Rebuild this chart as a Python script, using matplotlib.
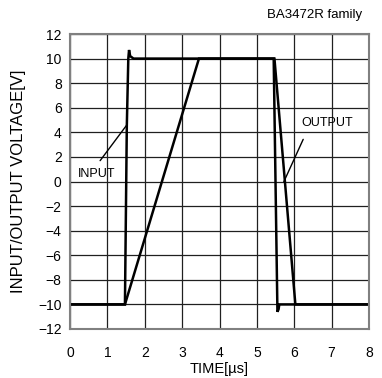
import matplotlib
matplotlib.use("Agg")
import matplotlib.pyplot as plt

plt.rcParams["font.family"] = ["Liberation Sans", "DejaVu Sans"]

# ── Data ─────────────────────────────────────────────────────────────────────
input_t = [0.0, 1.47, 1.52, 1.56, 1.58, 1.61, 1.70, 5.45, 5.55, 5.58, 5.60, 8.0]
input_v = [-10.0, -10.0, 4.5, 10.0, 10.7, 10.2, 10.0, 10.0, -10.6, -10.4, -10.0, -10.0]

output_t = [0.0, 1.47, 3.45, 5.47, 6.03, 8.0]
output_v = [-10.0, -10.0, 10.0, 10.0, -10.0, -10.0]

x_ticks = [0, 1, 2, 3, 4, 5, 6, 7, 8]
y_ticks = [-12, -10, -8, -6, -4, -2, 0, 2, 4, 6, 8, 10, 12]

# ── Plot ─────────────────────────────────────────────────────────────────────
fig = plt.figure(figsize=(3.82, 3.78), dpi=100)
ax = fig.add_axes([70 / 382, 1 - 329 / 378, 299 / 382, 295 / 378])

ax.plot(input_t, input_v, color="black", lw=1.8, solid_joinstyle="miter")
ax.plot(output_t, output_v, color="black", lw=1.8, solid_joinstyle="miter")

ax.set_xlim(0, 8)
ax.set_ylim(-12, 12)
ax.set_xticks(x_ticks)
ax.set_yticks(y_ticks)
ax.tick_params(length=0, labelsize=10)
ax.tick_params(axis="x", pad=12)
ax.tick_params(axis="y", pad=6)
ax.grid(True, color="#202020", lw=0.9)
ax.set_axisbelow(True)
for sp in ax.spines.values():
    sp.set_color("#808080")
    sp.set_linewidth(1.5)

ax.set_ylabel("INPUT/OUTPUT VOLTAGE[V]", fontsize=12, labelpad=9)
ax.set_xlabel("TIME[µs]", fontsize=10.5, labelpad=2)

# Annotations
ax.annotate("INPUT", xy=(1.52, 4.6), xytext=(0.21, 0.62), fontsize=9,
            va="center", ha="left",
            arrowprops=dict(arrowstyle="-", color="black", lw=1,
                            shrinkA=4, shrinkB=0, relpos=(0.45, 1.0)))
ax.annotate("OUTPUT", xy=(5.72, -0.03), xytext=(6.2, 4.76), fontsize=9,
            va="center", ha="left",
            arrowprops=dict(arrowstyle="-", color="black", lw=1,
                            shrinkA=6, shrinkB=0, relpos=(0.12, 0.0)))

fig.text(362 / 382, 1 - 15 / 378, "BA3472R family", fontsize=9.5,
         ha="right", va="center")

fig.savefig("out.png", dpi=100)
